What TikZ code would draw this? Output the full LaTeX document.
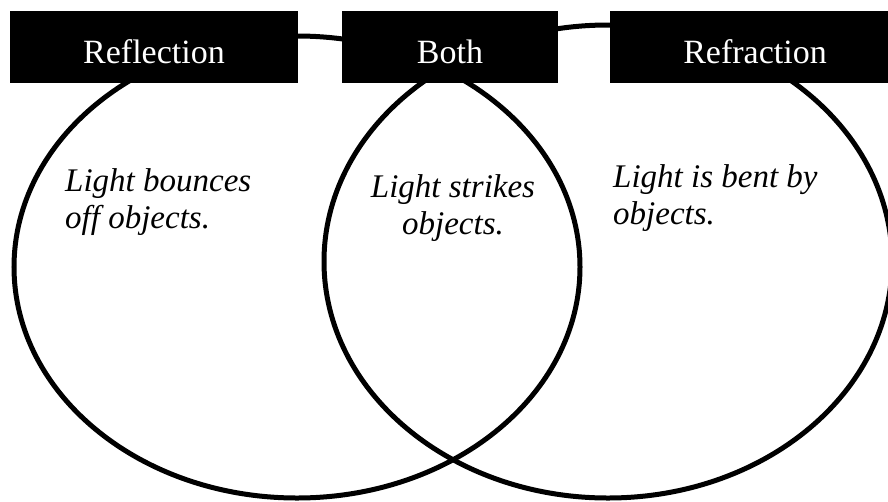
\documentclass[tikz,border=0pt]{standalone}
\usepackage{fontspec}
\setmainfont{Liberation Serif}
\begin{document}
\begin{tikzpicture}[x=1pt,y=-1pt,
  ring/.style={line width=5pt,draw=black},
  labelbox/.style={fill=black,text=white,inner sep=0pt,
    text height=32pt,text depth=0pt,
    font=\fontsize{34}{36}\selectfont},
  note/.style={inner sep=0pt,font=\fontsize{33}{37}\itshape\selectfont}]
\useasboundingbox (0,0) rectangle (888,501);
\begin{scope}
\clip (0,0) rectangle (888,501);
% circles
\draw[ring] (297,267) ellipse [x radius=283, y radius=231];
\draw[ring] (608,261.5) ellipse [x radius=284, y radius=236.5];
% label boxes
\node[labelbox,minimum width=288pt,minimum height=72pt] (refl) at (154,47) {Reflection};
\node[labelbox,minimum width=216pt,minimum height=72pt] (both) at (450,47) {Both};
\node[labelbox,minimum width=290pt,minimum height=72pt] (refr) at (755,47) {Refraction};
\end{scope}
% texts
\node[note,align=left,anchor=base west] (t1) at (65,228) {Light bounces\\off objects.};
\node[note,align=center,anchor=base] (t2) at (453,234) {Light strikes\\objects.};
\node[note,align=left,anchor=base west] (t3) at (613,224) {Light is bent by\\objects.};
\end{tikzpicture}
\end{document}
